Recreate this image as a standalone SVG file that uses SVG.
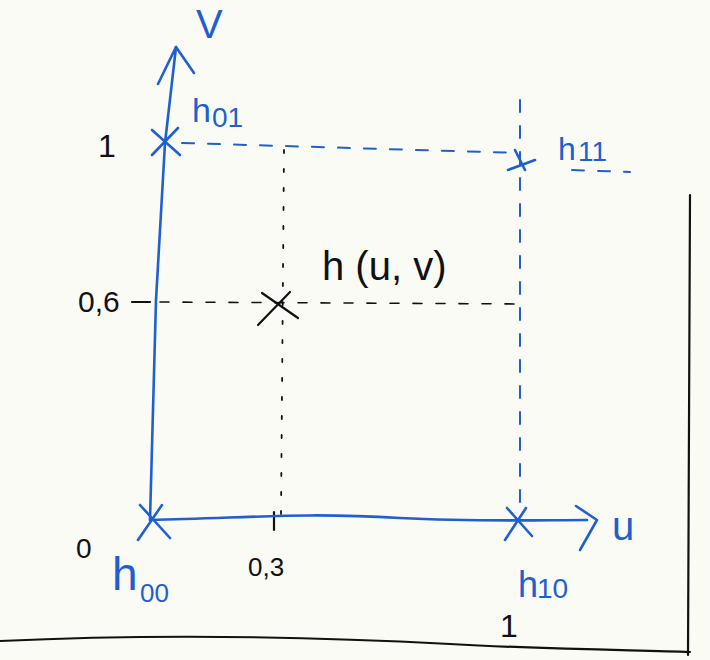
<svg xmlns="http://www.w3.org/2000/svg" width="710" height="660" viewBox="0 0 710 660">
<style>
.blue{stroke:#1f5fd0;fill:none;stroke-width:2.6;stroke-linecap:round;stroke-linejoin:round}
.bl{stroke:#1f5fd0;fill:none;stroke-width:2;stroke-dasharray:12 14;stroke-linecap:round}
.blk{stroke:#111;fill:none;stroke-width:2.2;stroke-linecap:round}
.blkd{stroke:#111;fill:none;stroke-width:1.6;stroke-dasharray:9 14;stroke-linecap:round}
.blkdot{stroke:#111;fill:none;stroke-width:1.8;stroke-dasharray:3 16;stroke-linecap:round}
.tb{fill:#1f5fd0;font-family:"Liberation Sans",sans-serif}
.tk{fill:#111;font-family:"Liberation Sans",sans-serif}
</style>
<rect width="710" height="660" fill="#fbfbf6"/>
<g id="frame">
<path class="blk" d="M0 641 C150 634 300 636 450 644 C560 650 640 650 690 652"/>
<path class="blk" d="M690 195 L688 655"/>
</g>
<g id="connectors">
<path class="bl" d="M182 143 L520 153"/>
<path class="bl" d="M520 100 L520 515"/>
<path class="bl" d="M572 170 L630 172"/>
<path class="blkdot" d="M284 150 L281 515"/>
<path class="blkd" d="M160 302 L525 304"/>
<path class="blk" d="M132 302 L150 302"/>
<path class="blk" d="M274 512 L274 530"/>
</g>
<g id="v-axis">
<path class="blue" d="M150 520 L156 300 L165 143 L176 47"/>
<path class="blue" d="M158 84 L176 47 L194 73"/>
<text class="tb" x="196" y="38" font-size="40">V</text>
</g>
<g id="u-axis">
<path class="blue" d="M150 520 C250 518 300 512 400 518 C480 522 540 520 587 520"/>
<path class="blue" d="M576 506 L597 520 L580 550"/>
<text class="tb" x="612" y="540" font-size="40">u</text>
</g>
<g id="h00">
<path class="blue" d="M140 505 L170 538 M138 540 L162 505"/>
<text class="tk" x="76" y="558" font-size="28">0</text>
<text class="tb" x="112" y="590" font-size="46">h</text>
<text class="tb" x="140" y="602" font-size="26">00</text>
</g>
<g id="h01">
<path class="blue" d="M152 130 L180 155 M152 155 L178 128"/>
<text class="tk" x="98" y="157" font-size="32">1</text>
<text class="tb" x="192" y="122" font-size="34">h</text>
<text class="tb" x="212" y="127" font-size="28">01</text>
</g>
<g id="h11">
<path class="blue" d="M508 170 L535 160 M515 150 L525 170"/>
<text class="tb" x="558" y="160" font-size="32">h</text>
<text class="tb" x="578" y="161" font-size="28">11</text>
</g>
<g id="h10">
<path class="blue" d="M507 508 L532 536 M505 540 L526 508"/>
<text class="tb" x="518" y="597" font-size="36">h</text>
<text class="tb" x="537" y="598" font-size="28">10</text>
<text class="tk" x="500" y="637" font-size="32">1</text>
</g>
<g id="h-uv">
<path class="blk" d="M262 293 L298 318 M258 325 L290 292"/>
<text class="tk" x="78" y="312" font-size="30">0,6</text>
<text class="tk" x="248" y="576" font-size="26">0,3</text>
<text class="tk" x="322" y="280" font-size="40">h (u, v)</text>
</g>
</svg>
